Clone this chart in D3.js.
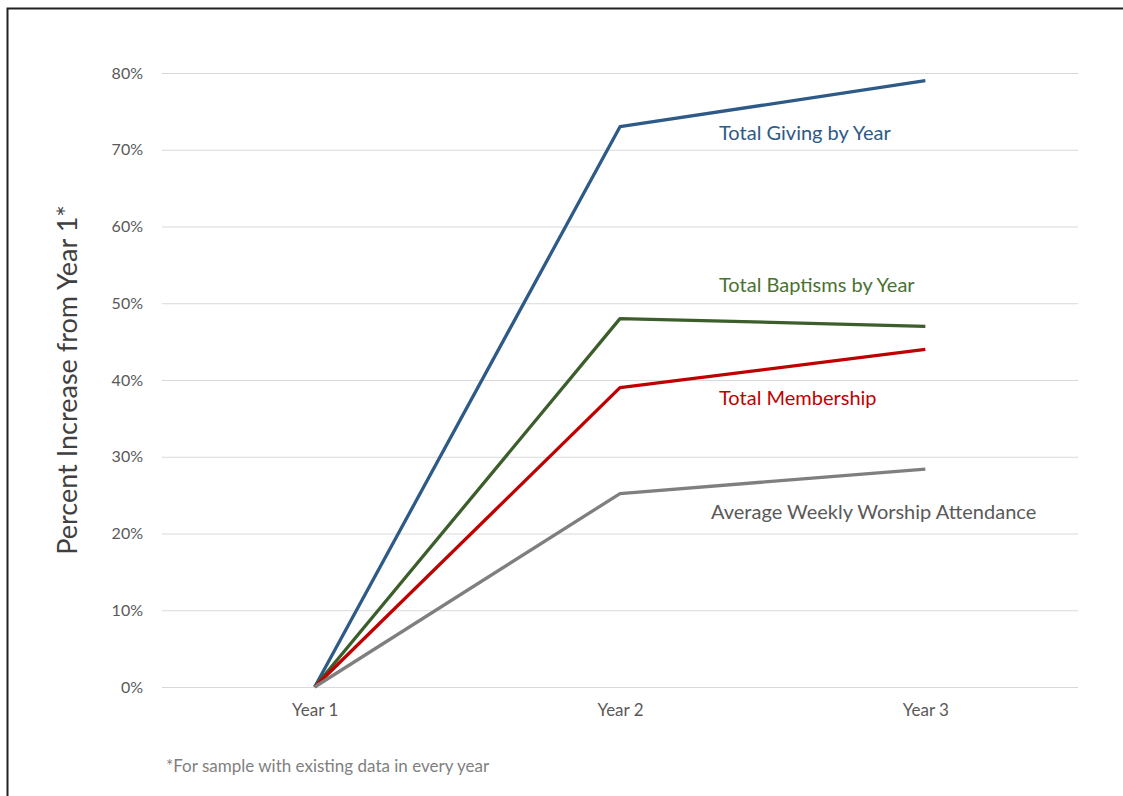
<!DOCTYPE html>
<html>
<head>
<meta charset="utf-8">
<script src="https://cdn.jsdelivr.net/npm/d3@7"></script>
<style>
  html, body { margin: 0; padding: 0; background: #fff; }
  svg text { font-family: Lato, "Open Sans", sans-serif; }
</style>
</head>
<body>
<svg id="chart" width="1123" height="796"></svg>
<script>
// Percent increase relative to Year 1, per metric
const years = ["Year 1", "Year 2", "Year 3"];
const givingValues = [0, 73, 79];
const baptismValues = [0, 48, 47];
const membershipValues = [0, 39, 44];
const attendanceValues = [0, 25.2, 28.4];
const yTicks = [0, 10, 20, 30, 40, 50, 60, 70, 80];

const series = [
  { name: "Total Giving by Year", values: givingValues, color: "#2E5A87", text: "#2E5A87", lx: 719, ly: 140 },
  { name: "Total Baptisms by Year", values: baptismValues, color: "#3B5E2B", text: "#4A7230", lx: 719, ly: 292 },
  { name: "Total Membership", values: membershipValues, color: "#C00000", text: "#C00000", lx: 719, ly: 405 },
  { name: "Average Weekly Worship Attendance", values: attendanceValues, color: "#7F7F7F", text: "#595959", lx: 711, ly: 519 }
];

const svg = d3.select("#chart");

// outer frame
svg.append("rect")
  .attr("x", 7.5).attr("y", 8.5)
  .attr("width", 1130).attr("height", 800)
  .attr("fill", "none").attr("stroke", "#222").attr("stroke-width", 2);

const plot = { left: 162, right: 1078, top: 73, bottom: 687 };

const x = d3.scalePoint().domain(years).range([plot.left, plot.right]).padding(0.5);
const y = d3.scaleLinear().domain([0, 80]).range([plot.bottom, plot.top]);

// horizontal gridlines
svg.append("g").selectAll("line").data(yTicks).join("line")
  .attr("x1", plot.left).attr("x2", plot.right)
  .attr("y1", d => y(d) + 0.5).attr("y2", d => y(d) + 0.5)
  .attr("stroke", "#d9d9d9").attr("stroke-width", 1);

// y axis tick labels
const yAxis = d3.axisLeft(y).tickValues(yTicks).tickSize(0).tickPadding(19)
  .tickFormat(d => d + "%");
const gy = svg.append("g").attr("transform", `translate(${plot.left},0)`).call(yAxis);
gy.select(".domain").remove();
gy.selectAll("text").attr("fill", "#595959").style("font-size", "16px")
  .style("font-family", "Lato, 'Open Sans', sans-serif");

// x axis labels
const xAxis = d3.axisBottom(x).tickSize(0).tickPadding(17);
const gx = svg.append("g").attr("transform", `translate(0,${plot.bottom})`).call(xAxis);
gx.select(".domain").remove();
gx.selectAll("text").attr("fill", "#595959").style("font-size", "17px")
  .style("font-family", "Lato, 'Open Sans', sans-serif");

// series lines
const line = d3.line().x((d, i) => x(years[i])).y(d => y(d));
svg.append("g").selectAll("path").data(series).join("path")
  .attr("d", d => line(d.values))
  .attr("fill", "none")
  .attr("stroke", d => d.color)
  .attr("stroke-width", 3.3)
  .attr("stroke-linejoin", "round");

// series labels
svg.append("g").selectAll("text").data(series).join("text")
  .attr("x", d => d.lx).attr("y", d => d.ly)
  .attr("fill", d => d.text)
  .style("font-size", "20px")
  .text(d => d.name);

// y axis title
svg.append("text")
  .attr("transform", `translate(77,${(plot.top + plot.bottom) / 2}) rotate(-90)`)
  .attr("text-anchor", "middle")
  .attr("fill", "#404040")
  .style("font-size", "27px")
  .text("Percent Increase from Year 1*");

// footnote
svg.append("text")
  .attr("x", 166).attr("y", 772)
  .attr("fill", "#7F7F7F")
  .style("font-size", "17px")
  .text("*For sample with existing data in every year");
</script>
</body>
</html>
